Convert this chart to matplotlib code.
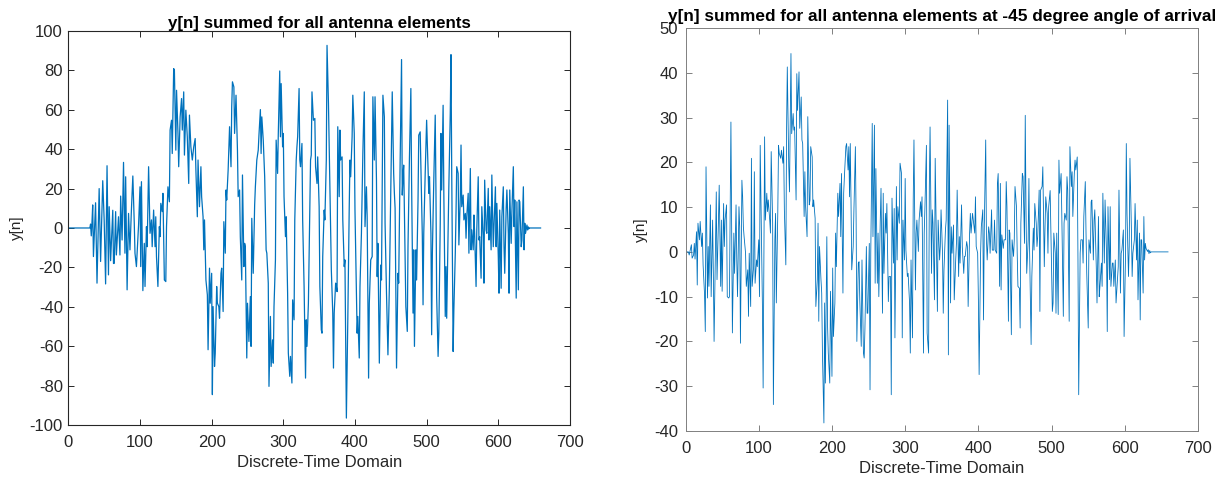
import matplotlib
matplotlib.use("Agg")
import matplotlib.pyplot as plt

plt.rcParams['font.family'] = ['Liberation Sans', 'DejaVu Sans']
plt.rcParams['axes.unicode_minus'] = False

# ---- data: beamformer output, all elements summed ----
left_n = [0, 30, 31, 32, 33, 34, 35, 38, 40, 43, 45, 48, 50, 52, 54, 56, 57, 59, 62, 63, 64, 66, 67, 70, 72, 73, 75, 77, 79, 80,
          82, 84, 86, 88, 90, 92, 93, 95, 98, 100, 101, 102, 104, 106, 107, 109, 110, 112, 114, 116, 117, 119, 121, 122, 123, 125, 127, 128, 129, 131,
          132, 134, 136, 137, 139, 141, 142, 144, 145, 147, 148, 150, 151, 153, 154, 156, 158, 159, 161, 162, 164, 166, 168, 169, 171, 173, 175, 177, 178, 180,
          181, 183, 185, 186, 188, 189, 190, 192, 194, 195, 197, 198, 200, 201, 202, 204, 205, 207, 208, 210, 211, 213, 214, 216, 217, 219, 220, 221, 223, 225,
          227, 228, 229, 231, 232, 234, 236, 237, 239, 240, 242, 243, 245, 246, 247, 249, 250, 252, 254, 255, 256, 258, 260, 261, 263, 265, 266, 268, 269, 270,
          272, 274, 276, 277, 279, 280, 282, 283, 285, 286, 287, 289, 290, 292, 293, 295, 296, 297, 299, 300, 301, 303, 304, 306, 307, 309, 310, 312, 313, 315,
          316, 318, 319, 320, 322, 323, 324, 326, 327, 329, 331, 332, 333, 335, 336, 338, 339, 340, 342, 344, 345, 347, 348, 350, 351, 353, 354, 355, 357, 358,
          360, 361, 363, 365, 367, 369, 370, 371, 373, 374, 375, 376, 378, 379, 380, 382, 383, 385, 386, 388, 390, 392, 393, 394, 396, 397, 399, 400, 401, 403,
          404, 406, 407, 409, 411, 413, 414, 416, 417, 419, 420, 422, 424, 425, 427, 428, 430, 431, 432, 434, 436, 437, 439, 441, 442, 444, 446, 448, 450, 452,
          454, 455, 456, 458, 460, 461, 463, 465, 466, 467, 468, 470, 471, 473, 474, 476, 478, 479, 481, 482, 483, 485, 486, 488, 489, 491, 492, 494, 495, 496,
          498, 500, 501, 503, 504, 506, 507, 508, 510, 512, 513, 514, 516, 517, 519, 520, 521, 523, 524, 526, 527, 528, 530, 531, 533, 534, 535, 537, 538, 540,
          541, 542, 544, 545, 547, 548, 549, 551, 552, 554, 555, 556, 558, 559, 561, 562, 563, 565, 566, 567, 569, 570, 572, 573, 574, 576, 577, 579, 580, 581,
          583, 584, 586, 587, 588, 590, 591, 593, 594, 596, 597, 598, 600, 601, 602, 604, 605, 607, 608, 609, 611, 612, 614, 615, 616, 618, 619, 621, 622, 623,
          625, 626, 628, 629, 630, 632, 633, 635, 636, 637, 638, 640, 641, 642, 643, 644, 659]
left_y = [0, 0, 2, -4, 3, 11.7, -14.5, 12.8, -28, 20, -17, 24, 4, -28.4, 31.6, -23.8, 10.8, -16.6, 9, -18, -18, 8.3, -13.7, 5.7, -13.7, 16.2, -6.1, 33.3, -12.8, 26,
          -31.4, 7.4, -11.1, 9.1, 26.4, 2.4, -12.8, -19.6, 1.5, 20.9, -19.6, 23.5, -31.8, -7.8, -29.7, 0.7, -9.5, 31.1, -2.7, 4.1, -9.5, 9.1, -9.5, 5.7, -14.5, -29.7, 0.7, -4.4, 12.5, 8.3,
          17.6, -26.4, -27.2, 0.7, 20.9, 13.3, 49.7, 54.7, 37.8, 80.9, 80.1, 39.5, 69.9, 48, 31.1, 56.4, 65.7, 49.7, 69.1, 37, 59.8, 46.3, 22.6, 57.3, 41.2, 34.5, 41.2, 45.4, 29.4, 5.7,
          34.5, 10.8, 31.1, 15.9, 5.7, -11.1, 4.1, -26.4, -34, -61.8, -20.4, -38.2, -23, -84.6, -39.9, -70.3, -63.5, -29.7, -38.2, -39.9, -45.8, -23, -20.4, -42.4, 3.2, -12.8, 19.3, 14.2, 29.4, 51.4,
          31.1, 61.5, 74.2, 71.6, 48, 67.4, 39.5, 15.9, 19.3, -4.4, -26.4, 26.9, -19.6, -7.8, -9.5, -66, -38.2, -57.6, -34.8, -60.1, 4.9, -23, 11.7, 20.9, 34.5, 39.5, 47.1, 60.1, 37.8, 56.4,
          44.6, 26, -11.1, -12.8, -28, -80.4, -44.9, -70.3, -56.8, -68.6, -39.9, -16.2, 44.6, 27.7, 48, 79.7, 46.3, 73.3, 41.2, 48, 15.9, -4.4, 5.7, -33.1, -63.5, -75.3, -65.2, -78.7, -36.5, -46.6,
          4.1, 34.5, 41.2, 46.3, 70.8, 34.5, 31.1, 42.9, 4.1, -29.7, -76.2, -46.6, -60.1, -38.2, -12.8, 34.5, 37, 69.1, 54.7, 55.6, 31.1, 22.6, 36.1, 10.8, -29.7, -51.7, -53.4, -14.5, 9.1, 4.1,
          34.5, 92.7, 63.2, 20.9, -21.3, -43.2, -71.1, -43.2, -28, -29.7, -32.3, 51.4, 15.9, 49.7, 34.5, 36.1, 4.1, -19.6, -16.2, -96.5, -46.6, 10.8, 34.5, 26, 46.3, 67.4, 48, 9.1, -12.8, -53.4,
          -44.9, -66, -29.7, -2.7, 37.8, 69.1, 0.7, 20.9, 5.7, -76.2, -38.2, -16.2, -14.5, 66.6, 34.5, 66.6, 24.3, -24.7, -7.8, -68.6, -18.8, -26.4, 67.4, 56.4, 2.4, -33.1, -64.4, -29.7, 20.9, 69.1,
          27.7, 17.6, 10, -71.1, -23, -28, 32.8, 85.5, 16.7, 26, 31.9, -16.2, -39.9, -52.5, -9.5, 35.3, 70.8, 24.3, -43.2, -11.1, -60.1, -11.1, -26.4, 14.2, 47.1, 48.8, 31.1, -4.4, -39, -2.7,
          27.7, 54.7, 42.1, 17.6, 26, -2.7, -54.2, -12.8, 24.3, 57.3, 19.3, -34.8, -65.2, -53.4, 2.4, 48, 19.3, 62.3, 17.6, -44.9, -19.6, -45.8, 0.7, 20.9, 58.1, 88, 29.4, -62.7, -41.6, -12.8,
          7.4, 31.1, 27.7, -8.6, 15.9, 42.1, 10.8, 16.7, 4.1, 7.4, -5.2, 5.7, 17.6, -12.8, 30.2, -11.1, -1, -11.1, 6.6, -2.7, -29.7, -1, 26, -6.1, -4.4, -25.5, 10.8, -4.4, -28, 24.3,
          -1, -2.7, 20.1, -6.1, 10.8, -11.1, 26.9, -9.5, 0.7, 20.9, -9.5, 12.5, -14.5, -33.1, 9.1, -30.6, 5.7, 20.9, -9.5, -23, 10, 19.3, -2.7, -33.1, 19.3, -7.8, 8.3, 31.1, 0.7, 14.2,
          -35.6, 13.3, -31.4, 14.2, 13.3, -9.5, -6.1, 20.9, -11.1, 2.4, -2.7, 1.5, -1, 0.5, -0.3, 0, 0]

# ---- data: same sum, signal arriving from -45 degrees ----
right_n = [0, 4, 5, 6, 8, 9, 11, 12, 13, 15, 16, 17, 19, 20, 22, 23, 24, 26, 27, 28, 30, 31, 32, 34, 35, 37, 38, 39, 41, 42,
           43, 45, 46, 48, 49, 50, 52, 53, 54, 56, 57, 59, 60, 62, 63, 64, 66, 67, 69, 70, 71, 73, 74, 75, 77, 78, 79, 80, 82, 83,
           85, 86, 87, 89, 90, 91, 93, 94, 95, 97, 98, 100, 101, 102, 104, 105, 106, 108, 109, 111, 112, 113, 115, 116, 117, 119, 120, 122, 123, 124,
           126, 127, 128, 130, 131, 133, 134, 135, 137, 138, 139, 141, 142, 144, 145, 147, 148, 149, 151, 152, 153, 155, 156, 158, 159, 160, 162, 163, 164, 166,
           167, 169, 170, 171, 173, 174, 175, 177, 178, 180, 181, 182, 183, 185, 186, 187, 189, 190, 191, 193, 194, 195, 197, 198, 200, 201, 202, 204, 205, 206,
           208, 209, 211, 212, 213, 215, 216, 217, 219, 220, 222, 223, 224, 225, 226, 227, 229, 230, 232, 233, 234, 236, 237, 238, 240, 241, 243, 244, 245, 247,
           248, 249, 251, 252, 253, 255, 256, 258, 259, 260, 262, 263, 264, 266, 267, 269, 270, 271, 273, 274, 275, 277, 278, 280, 281, 282, 284, 285, 286, 288,
           289, 290, 292, 293, 295, 296, 297, 299, 300, 301, 303, 304, 306, 307, 308, 310, 311, 312, 314, 315, 316, 318, 319, 321, 322, 323, 325, 326, 327, 329,
           330, 332, 333, 334, 336, 337, 338, 340, 341, 343, 344, 345, 347, 348, 349, 351, 352, 353, 355, 356, 358, 359, 360, 362, 363, 364, 366, 367, 369, 370,
           371, 373, 374, 375, 377, 378, 380, 381, 382, 384, 385, 386, 388, 389, 390, 392, 393, 395, 396, 397, 399, 400, 401, 403, 404, 406, 407, 408, 410, 411,
           412, 414, 415, 416, 418, 419, 421, 422, 423, 425, 426, 427, 429, 430, 431, 432, 434, 435, 437, 438, 439, 441, 442, 443, 445, 446, 448, 449, 450, 452,
           453, 454, 456, 457, 458, 460, 461, 463, 464, 465, 466, 468, 469, 470, 472, 473, 475, 476, 477, 479, 480, 481, 483, 484, 485, 487, 488, 490, 491, 492,
           494, 495, 496, 498, 499, 501, 502, 503, 505, 506, 507, 509, 510, 511, 513, 514, 516, 517, 518, 520, 521, 522, 524, 525, 527, 528, 529, 531, 532, 533,
           535, 536, 537, 539, 540, 542, 543, 544, 546, 547, 548, 550, 551, 553, 554, 555, 557, 558, 559, 561, 562, 564, 565, 566, 568, 569, 570, 572, 573, 575,
           576, 577, 579, 580, 581, 583, 584, 585, 587, 588, 590, 591, 592, 594, 595, 596, 598, 599, 601, 602, 603, 605, 606, 607, 609, 610, 611, 613, 614, 616,
           617, 618, 620, 621, 622, 623, 625, 626, 627, 628, 629, 631, 632, 633, 634, 635, 636, 659]
right_y = [0, 0, -0.7, 0.1, 1.6, -1.4, -0.7, 1.9, -1.6, 4.5, -7.4, 6.4, 2.7, 6.8, 1.2, 4.2, -2.9, -9.6, -17.8, 19, -10.3, 1.2, -7.7, 10.5, -10, 7.1, -4.8, -20, 2.7, 13.4,
           -6.2, 7.1, 14.9, -7.7, 7.1, -8.8, 10.8, 1.2, 7.1, 10.5, -10, -10.3, -10, 29, 4.2, -18.1, 4.2, -4.8, 10.5, -1.8, -10, 10.1, 5.6, -20.4, 16, 12.3, 5.6, 3.4, -0.3, -7.7,
           -4, -14.4, -0.3, -12.2, 20.9, -7.7, -3.3, 17.9, -7, -1.8, -3.3, 2.7, -10, 23.8, -0.3, -11.8, -30.4, 25.7, 7.1, 13.1, 9, 11.6, 7.1, 4.2, 22.4, 6.4, -34.1, 2.7, 8.6, -11.4,
           8.6, 23.8, 22, 20.9, 22.7, 19.8, 23.5, 9.4, -2.9, 27.2, 41.3, 19, 13.4, 44.3, 26.4, 30.9, 27.2, 27.9, 11.6, 39.8, 31.6, 40.2, 27.6, 34.6, 25, 24.2, 7.9, 17.9, 10.1, 3.4,
           30.2, 10.5, 11.6, 23.5, 21.2, 10.1, 11.6, 7.5, -12.2, -6.2, 6.4, -15.5, 1.2, -6.2, -9.2, -22.6, -38.2, -11.4, -29.3, 3.4, -16.6, -22.6, -29.3, -8.8, -27.8, -3.6, -18.9, -11.4, 4.2, -3.3,
           13.1, 7.9, 15.3, 3.4, 17.5, -9.2, 13.1, 16.8, 23.5, 24.2, 18.3, 23.5, 12.3, 24.2, 11.6, -4, 1.2, 9.4, 23.5, 7.1, -20, -2.5, -2.2, -10.7, -21.1, -1.8, -22.6, -23.7, -17.4, 1.2,
           -13.7, -13.7, 1.9, -30.8, -0.3, 28.7, 3.4, 28.3, -7, 18.6, -7, 4.2, -10, 7.1, 14.2, -13.7, 13.1, -4.8, 8.6, 4.2, 10.8, -11.1, -5.5, -5.5, -31.9, 12, -2.5, 9.7, -19.2, 14.6,
           -1.8, 10.1, 6.4, 19.8, 17.5, -19.2, 7.1, -1.8, 16.4, 0.4, -5.5, -4.8, -11.4, -22.6, -1.8, -19.2, 11.6, 25, -8.5, 4.2, 7.1, 0.1, 7.1, 11.2, 7.9, 12.3, -22.6, 4.2, 10.1, 23.8,
           -18.1, -22.6, 14.6, 27.9, -4.8, 9.4, 6.4, -10.7, 20.9, -1.8, -13.3, 7.1, -1.8, 1.2, 9.4, -0.3, -13.7, -4, 4.9, 7.1, 33.9, -23, 28.3, -11.4, 5.6, -0.3, 6, -10.7, -1.8, 1.9,
           13.8, -5.5, 3.4, -2.5, 10.5, 1.2, -4.8, -1, -1, 2.3, 1.2, -12.2, 4.2, 8.6, 4.2, 8.6, 7.1, 4.2, 12.3, 1.2, -0.3, -10.7, -27.4, -0.3, 5.6, 9.4, -15.2, 4.9, 25, 2.7,
           -1.8, 5.6, 4.2, -0.3, 9.4, 0.4, 0.4, 7.1, 0.4, -0.3, 15.3, 17.5, -7.7, 15.3, -8.5, 3.8, 0.8, 2.7, 2.7, 15.7, 10.1, -15.5, 4.9, 4.2, -18.5, 2.7, -1, 2.7, 14.6, 10.1,
           -0.3, -7.7, -8.1, -17, 6.4, 17.5, 16.8, 1.9, 30.5, 10.1, -4.8, 2.7, 16.4, -0.3, -20.7, -5.5, 5.3, 0.4, 10.8, 6.4, 1.2, 3.4, 13.8, -13.3, 13.8, 14.6, 19, -3.3, 5.6, 12.3,
           8.6, -0.3, 10.1, 13.7, 4.9, -13.3, -11.4, 4.2, -0.3, -13.7, 4.2, -14, 20.5, 13.1, 17.5, 7.5, -14.4, 6.4, 8.6, 7.1, 16.8, 13.8, -15.5, 23.5, 14.6, 17.9, 7.9, 17.5, 20.5, 18.3,
           21.2, -1.8, -31.9, -0.3, 2.7, 2.7, -2.5, 7.9, 15.7, 4.2, -4.8, -17, 2.7, -0.3, 11.2, 11.6, -1.8, 7.1, 9.4, -3.3, -11.4, 7.9, -10, -7.7, -2.5, -7.7, 13.1, -2.5, 11.6, -0.3,
           -17.8, 10.1, -6.2, 10.1, -7.7, -2.5, -2.5, -7.7, -1.8, -11.4, -6.2, -3.3, 13.8, -9.2, -0.3, 0.4, 4.9, -18.9, -0.3, 24.2, 8.6, -5.5, 1.2, 20.9, 4.9, -5.5, -0.3, 2.7, 10.8, -1.8,
           7.1, -10.7, 4.2, -15.2, 2.7, 2.7, -9.2, 7.9, -1.8, 1.9, 0.8, 0.1, 0.5, -0.4, 0.3, -0.2, 0, 0]

titles = ["y[n] summed for all antenna elements",
          "y[n] summed for all antenna elements at -45 degree angle of arrival"]
x_label = "Discrete-Time Domain"
y_label = "y[n]"
x_ticks = list(range(0, 701, 100))
left_yticks = list(range(-100, 101, 20))
right_yticks = list(range(-40, 51, 10))

LINE = "#0072BD"
AX = "#262626"
NARROW = ['Liberation Sans Narrow', 'Liberation Sans', 'DejaVu Sans']

fig = plt.figure(figsize=(12.27, 4.82), dpi=100)
ax1 = fig.add_axes([0.0557, 0.1183, 0.4088, 0.8174])
ax2 = fig.add_axes([0.5587, 0.1058, 0.4177, 0.8361])

panels = [
    (ax1, left_n, left_y, left_yticks, (-100, 100), 0.9, AX, 0.8, 4.0, 2.0, 12.2),
    (ax2, right_n, right_y, right_yticks, (-40, 50), 0.6, "#808080", 0.7, 5.5, 5.0, 12.4),
]
for i, (ax, n, y, yt, ylim, lw, spine_c, spine_w, ypad, tpad, tsize) in enumerate(panels):
    ax.plot(n, y, color=LINE, lw=lw)
    ax.set_xlim(0, 700)
    ax.set_ylim(*ylim)
    ax.set_xticks(x_ticks)
    ax.set_yticks(yt)
    ax.tick_params(direction="in", top=True, right=True, length=4, width=0.7,
                   colors=spine_c, labelcolor=AX)
    ax.tick_params(axis="x", pad=7.5)
    ax.tick_params(axis="y", pad=ypad)
    for lab in ax.get_xticklabels() + ax.get_yticklabels():
        lab.set_fontfamily(NARROW)
        lab.set_fontsize(12)
    for s in ax.spines.values():
        s.set_color(spine_c)
        s.set_linewidth(spine_w)
    ax.set_xlabel(x_label, fontsize=12, color=AX, labelpad=3)
    ax.set_ylabel(y_label, fontsize=11, color=AX, labelpad=4, family=NARROW)
    ax.set_title(titles[i], fontsize=tsize, fontweight="bold", color="black", pad=tpad)

fig.savefig("out.png", dpi=100)
